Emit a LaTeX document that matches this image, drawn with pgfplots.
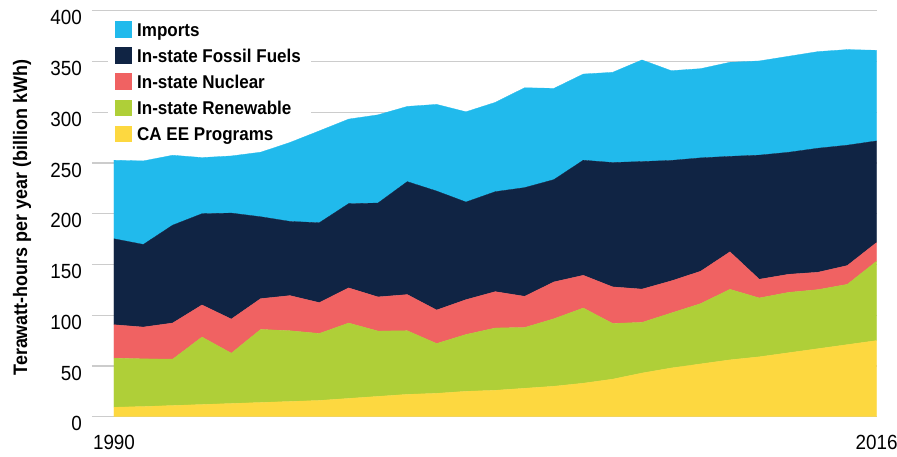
\documentclass[border=0pt]{standalone}
\usepackage{fontspec}
\setmainfont{Liberation Sans}[FakeStretch=0.92]
\usepackage{pgfplots}
\usepackage{pgfplotstable}
\pgfplotsset{compat=1.18}
\definecolor{cImp}{RGB}{33,186,236}
\definecolor{cFos}{RGB}{16,36,68}
\definecolor{cNuc}{RGB}{240,98,98}
\definecolor{cRen}{RGB}{175,207,56}
\definecolor{cEE}{RGB}{253,216,64}
\pgfplotstableread{
year EE Ren Nuc Fos Imp
1990 9.3 48.4 32.9 84.7 77.4
1991 10 47.0 31.3 81.4 82.3
1992 11 45.7 35.6 96.4 68.9
1993 12 66.5 31.6 89.9 55.3
1994 13 49.6 33.6 104.4 56.3
1995 14 72.0 30.3 80.7 63.6
1996 15 69.7 34.6 73.1 77.8
1997 16 66.0 30.4 78.7 90.5
1998 18 74.3 34.6 83.0 83.3
1999 20 64.4 33.6 92.5 86.9
2000 22 62.7 35.6 111.3 74.1
2001 23 49.1 33.0 117.2 85.4
2002 25 56.0 34.3 96.2 88.9
2003 26 61.4 35.8 98.5 88.0
2004 28 59.9 30.7 107.1 98.4
2005 30 66.5 36.3 100.8 89.9
2006 33 74.1 32.2 113.4 84.9
2007 37 54.9 36.0 122.5 88.9
2008 43 49.9 32.8 125.7 100.1
2009 48 54.2 31.6 118.7 88.4
2010 52 59.4 31.9 111.7 87.9
2011 56 69.5 36.9 94.1 92.7
2012 59 58.0 18.4 122.3 92.8
2013 63 59.5 17.8 120.2 94.6
2014 67 58.2 17.1 122.2 95.2
2015 71 59.4 18.5 118.6 94.2
2016 75 78.2 18.4 100.1 89.3
}\datatable
\begin{document}
\begin{tikzpicture}
\path[use as bounding box] (-92bp,-40.3bp) rectangle (805bp,416.7bp);
\begin{axis}[
  scale only axis,
  width=784.6bp, height=406bp,
  xmin=1989.25, xmax=2016,
  ymin=0, ymax=400,
  stack plots=y,
  axis line style={draw=none},
  tick style={draw=none},
  major tick length=0pt,
  ymajorgrids,
  grid style={color=black!20, line width=1.3bp},
  ytick={0,50,...,400},
  xtick={1990,2016},
  xticklabels={1990,2016},
  /pgf/number format/assume math mode=true,
  ticklabel style={font=\fontsize{20.5bp}{24bp}\selectfont},
  yticklabel style={anchor=east, inner sep=0pt, xshift=-10bp, yshift=-7bp},
  xticklabel style={anchor=north, inner sep=0pt, yshift=-18.3bp},
  ylabel={Terawatt-hours per year (billion kWh)},
  every axis y label/.style={at={(axis description cs:-0.0892,0.49)}, rotate=90, anchor=center,
    font=\bfseries\fontsize{19.5bp}{23bp}\selectfont},
  reverse legend,
  legend cell align=left,
  legend image code/.code={\fill[#1] (0bp,-5.7bp) rectangle (15.7bp,10bp);},
  legend style={at={(axis description cs:0,1)}, anchor=north west,
    xshift=16bp, yshift=-6.3bp, draw=none, fill=none,
    inner xsep=7bp, inner ysep=4bp, row sep=7bp,
    font=\bfseries\fontsize{18.5bp}{22bp}\selectfont,
    nodes={inner sep=0pt, text height=14bp, text depth=4bp},
    /tikz/every odd column/.append style={column sep=6bp}},
]
\fill[white] (rel axis cs:0.0204,0.726) rectangle (rel axis cs:0.279,0.982);
\addplot[fill=cEE, draw=cEE, line width=0.3bp] table[x=year, y=EE] {\datatable} \closedcycle;
\addlegendentry{CA EE Programs}
\addplot[fill=cRen, draw=cRen, line width=0.3bp] table[x=year, y=Ren] {\datatable} \closedcycle;
\addlegendentry{In-state Renewable}
\addplot[fill=cNuc, draw=cNuc, line width=0.3bp] table[x=year, y=Nuc] {\datatable} \closedcycle;
\addlegendentry{In-state Nuclear}
\addplot[fill=cFos, draw=cFos, line width=0.3bp] table[x=year, y=Fos] {\datatable} \closedcycle;
\addlegendentry{In-state Fossil Fuels}
\addplot[fill=cImp, draw=cImp, line width=0.3bp] table[x=year, y=Imp] {\datatable} \closedcycle;
\addlegendentry{Imports}
\end{axis}
\end{tikzpicture}
\end{document}
